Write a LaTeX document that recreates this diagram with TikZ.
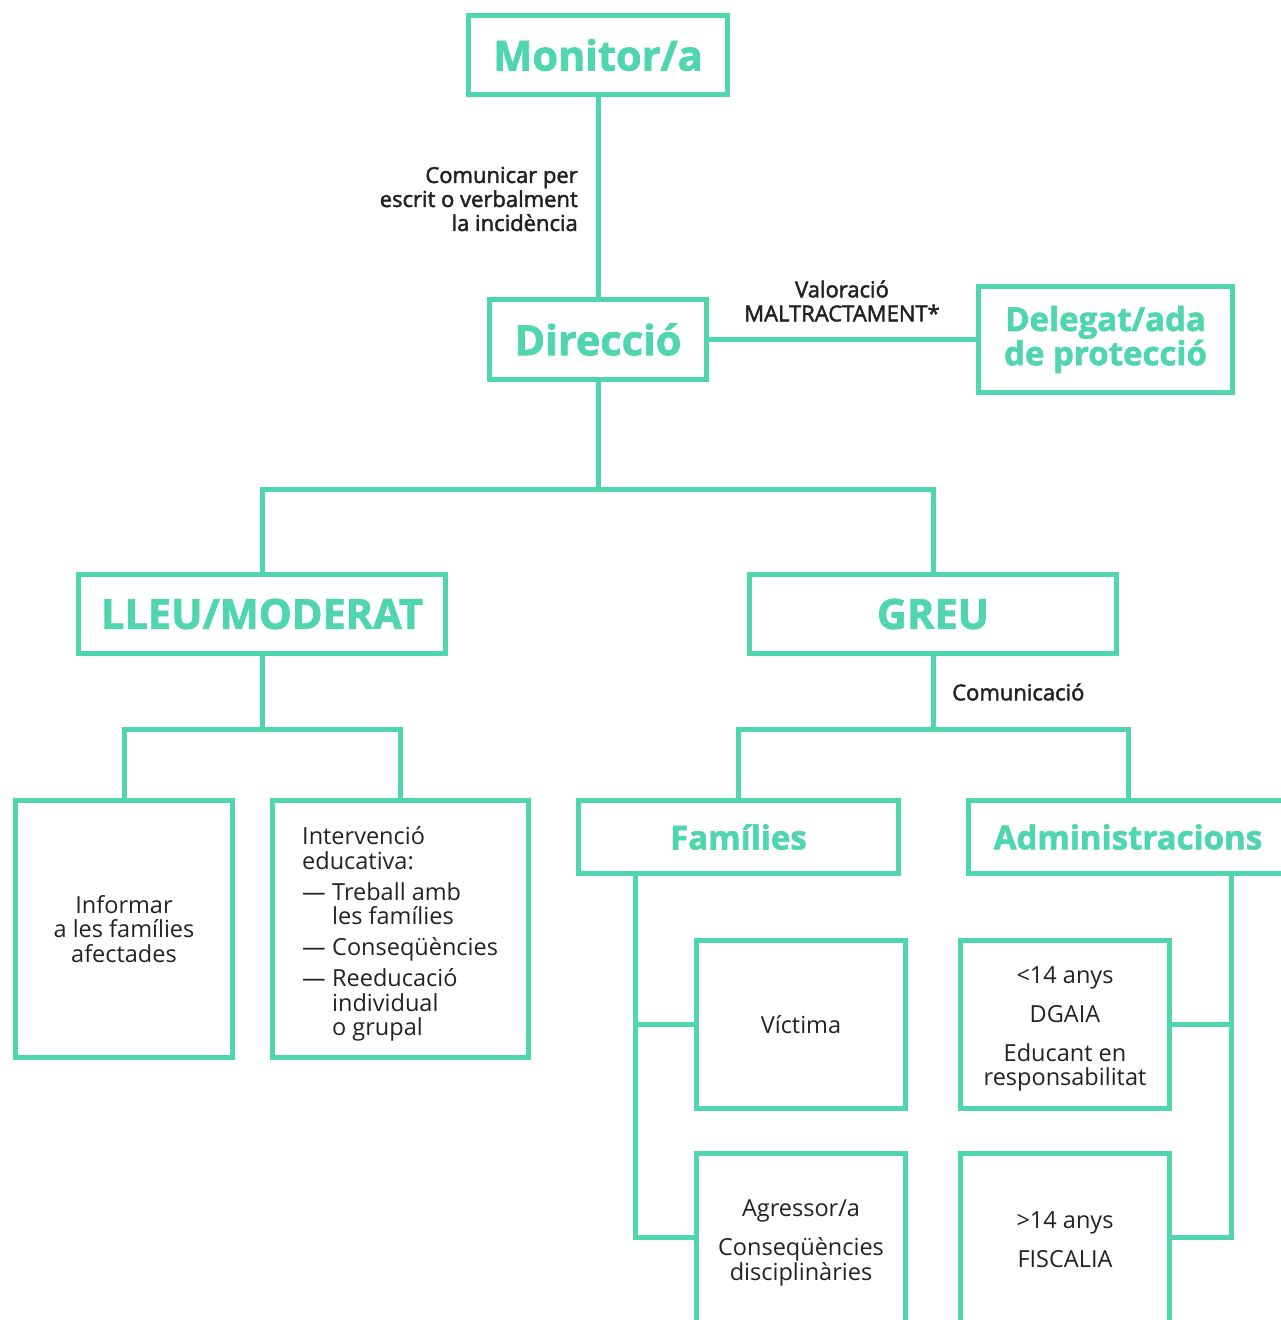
\documentclass[tikz,border=0pt]{standalone}
\usepackage{fontspec}
\setmainfont{Open Sans}
\newfontfamily\lblfont{Open Sans}[FakeBold=2]
\newfontfamily\headfont{Open Sans}[UprightFont=*, BoldFont=* Bold, BoldFeatures={FakeBold=1.8}]
\usetikzlibrary{calc}
\definecolor{mint}{RGB}{80,214,172}
\definecolor{ink}{RGB}{34,34,34}
\tikzset{
  box/.style={draw=mint, line width=5pt, inner sep=0pt, outer sep=0pt, fill=white},
  head/.style={text=mint, font=\fontsize{41.5}{44}\selectfont\headfont\bfseries},
  subhead/.style={text=mint, font=\fontsize{33}{32}\selectfont\headfont\bfseries, align=center},
  body/.style={text=ink, font=\fontsize{23.5}{24.5}\selectfont},
  lbl/.style={text=ink, font=\fontsize{22}{24}\selectfont\lblfont, inner sep=0pt},
  conn/.style={draw=mint, line width=5pt},
}
\begin{document}
\begin{tikzpicture}[x=1pt,y=-1pt]
\useasboundingbox (0,0) rectangle (1281,1320);
\clip (0,0) rectangle (1281,1320);
\fill[white] (0,0) rectangle (1281,1320);

% junctions
\coordinate (j1) at (598,489);
\coordinate (j2) at (262,729);
\coordinate (j3) at (933,729);
\coordinate (fb) at (635,873);
\coordinate (ab) at (1231,873);

\node[box, minimum width=259, minimum height=79] (mon) at (598,55) {};
\node[box, minimum width=217, minimum height=80] (dir) at (598,339.5) {};
\node[box, minimum width=254, minimum height=106] (del) at (1105.5,339.5) {};
\node[box, minimum width=367, minimum height=79] (lleu) at (262,614) {};
\node[box, minimum width=367, minimum height=79] (greu) at (933,614) {};
\node[box, minimum width=217, minimum height=257] (inf) at (124,929) {};
\node[box, minimum width=256, minimum height=257] (int) at (400.5,929) {};
\node[box, minimum width=320, minimum height=73] (fam) at (738.5,837) {};
\node[box, minimum width=319, minimum height=73] (adm) at (1128,837) {};
\node[box, minimum width=209, minimum height=168] (vic) at (801,1024.5) {};
\node[box, minimum width=209, minimum height=168] (lt) at (1065,1024.5) {};
\node[box, minimum width=209, minimum height=197] (agr) at (801,1252) {};
\node[box, minimum width=209, minimum height=197] (gt) at (1065,1252) {};

\draw[conn] (mon.south) -- (dir.north);
\draw[conn] (dir.east) -- (del.west);
\draw[conn] (dir.south) -- (j1);
\draw[conn] (lleu.north) |- (j1) -| (greu.north);
\draw[conn] (lleu.south) -- (j2);
\draw[conn] (inf.north) |- (j2) -| (int.north);
\draw[conn] (greu.south) -- (j3);
\draw[conn] (fam.north) |- (j3) -| (adm.north);
\coordinate (agrw) at ($(agr.north west)+(0,83.5)$);
\coordinate (gte) at ($(gt.north east)+(0,83.5)$);
\draw[conn] (fb) |- (agrw);
\draw[conn] (vic.west) -- (vic.west -| fb);
\draw[conn] (ab) |- (gte);
\draw[conn] (lt.east) -- (lt.east -| ab);

% heading texts
\node[head] (tmon) at (mon.center) {Monitor/a};
\node[head] (tdir) at (dir.center) {Direcció};
\node[subhead] (tdel) at (del.center) {Delegat/ada\\de protecció};
\node[head] (tlleu) at (lleu.center) {LLEU/MODERAT};
\node[head] (tgreu) at (greu.center) {GREU};
\node[subhead] (tfam) at (fam.center) {Famílies};
\node[subhead] (tadm) at (adm.center) {Administracions};

% body texts
\node[body, align=center] (tinf) at (inf.center) {Informar\\a les famílies\\afectades};
\node[body, align=left, anchor=west, inner sep=0pt] (tint) at (302,934) {Intervenció\\educativa:\\[6.5pt]
\makebox[30pt][l]{—}Treball amb\\\hspace*{30pt}les famílies\\[6.5pt]
\makebox[30pt][l]{—}Conseqüències\\[6.5pt]
\makebox[30pt][l]{—}Reeducació\\\hspace*{30pt}individual\\\hspace*{30pt}o grupal};
\node[body] (tvic) at (vic.center) {Víctima};
\node[body, align=center] (tlt) at (1065,1029) {<14 anys\\[14.5pt]DGAIA\\[14.5pt]Educant en\\responsabilitat};
\node[body, align=center] (tagr) at (801,1243) {Agressor/a\\[14.5pt]Conseqüències\\disciplinàries};
\node[body, align=center] (tgt) at (1065,1240) {>14 anys\\[14.5pt]FISCALIA};

% labels
\node[lbl, align=right, anchor=east] (lcom) at (578,199) {Comunicar per\\escrit o verbalment\\la incidència};
\node[lbl, align=center] (lval) at (842,301) {Valoració\\MALTRACTAMENT*};
\node[lbl, anchor=west] (lcomu) at (952,692) {Comunicació};
\end{tikzpicture}
\end{document}
